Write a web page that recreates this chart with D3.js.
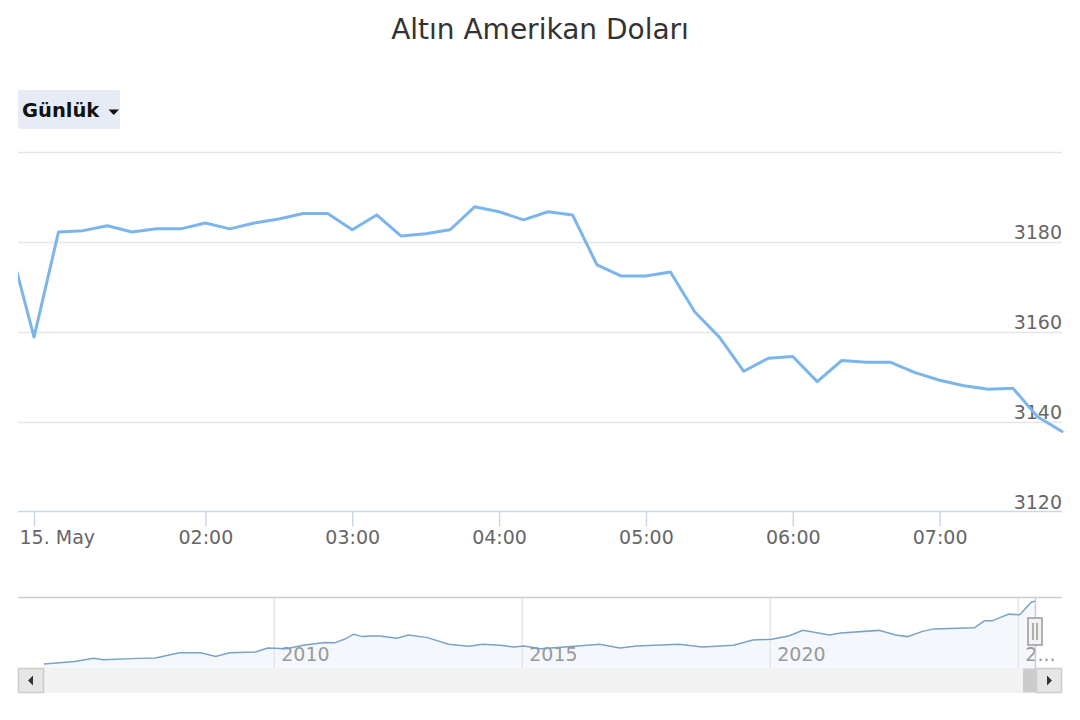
<!DOCTYPE html>
<html>
<head>
<meta charset="utf-8">
<script src="https://cdn.jsdelivr.net/npm/d3@7"></script>
<style>
  html, body { margin: 0; padding: 0; background: #fff; }
  svg { display: block; font-family: "DejaVu Sans", sans-serif; }
</style>
</head>
<body>
<svg id="chart" width="1080" height="720"></svg>
<script>
// ---- Data ----
const chartTitle = "Altın Amerikan Doları";
const rangeLabel = "Günlük";
// 10-minute points (ordinal index); first point lies just left of the visible window
const priceValues = [3179.5, 3158.8, 3182.2, 3182.5, 3183.6, 3182.2, 3182.9, 3182.9, 3184.2, 3182.9,
  3184.2, 3185.1, 3186.3, 3186.3, 3182.7, 3186.0, 3181.3, 3181.8, 3182.7, 3187.8,
  3186.7, 3184.9, 3186.7, 3186.0, 3174.9, 3172.4, 3172.4, 3173.3, 3164.4, 3158.8,
  3151.2, 3154.1, 3154.5, 3148.9, 3153.6, 3153.2, 3153.2, 3150.9, 3149.2, 3148.0,
  3147.2, 3147.4, 3141.1, 3137.8];
const timeTickIndex = [1, 8, 14, 20, 26, 32, 38];
const timeTickLabels = ["15. May", "02:00", "03:00", "04:00", "05:00", "06:00", "07:00"];
const yTicks = [3120, 3140, 3160, 3180, 3200];
const yLabelTicks = [3120, 3140, 3160, 3180];

const navDates = ["2005-05-15","2005-12-28","2006-05-15","2006-07-26","2007-04-12","2007-08-15","2008-02-05","2008-07-12","2008-10-30","2009-02-10","2009-08-20","2009-11-17","2010-04-05","2010-08-08","2011-01-12","2011-03-25","2011-06-05","2011-08-12","2011-10-16","2011-12-17","2012-02-20","2012-06-25","2012-09-20","2013-02-06","2013-07-12","2013-12-06","2014-03-18","2014-07-24","2014-11-03","2015-01-16","2015-05-20","2016-01-26","2016-07-27","2016-12-24","2017-04-27","2018-03-03","2018-08-25","2019-04-09","2019-08-30","2020-01-15","2020-05-19","2020-09-01","2021-03-17","2021-06-07","2022-03-15","2022-07-17","2022-10-12","2023-01-30","2023-04-23","2024-02-17","2024-04-30","2024-06-25","2024-10-27","2025-01-15","2025-04-12","2025-05-15"];
const navValues = [420,532,671,612,671,689,921,921,751,921,957,1136,1105,1257,1382,1364,1521,1749,1642,1673,1673,1566,1718,1597,1306,1212,1306,1257,1181,1226,1105,1212,1306,1136,1226,1306,1181,1257,1494,1521,1673,1920,1718,1799,1920,1718,1642,1875,1987,2032,2345,2345,2645,2613,3186,3231];
const navYears = ["2010-01-01", "2015-01-01", "2020-01-01", "2025-01-01"];

// ---- Layout ----
const svg = d3.select("#chart");
const W = 1080;
const plot = { left: 18, right: 1062, top: 152, bottom: 511.5 };
const nav = { left: 18, right: 1062, top: 597, bottom: 668, dataLeft: 44, dataRight: 1036 };
const scroll = { top: 668, bottom: 693, btn: 26 };

svg.append("rect").attr("width", 1080).attr("height", 720).attr("fill", "#fff");

// Title
svg.append("text").attr("x", W / 2).attr("y", 39).attr("text-anchor", "middle")
  .attr("font-size", 28).attr("fill", "#333").text(chartTitle);

// Range button
const btn = svg.append("g");
btn.append("rect").attr("x", 18).attr("y", 90).attr("width", 102).attr("height", 39)
  .attr("rx", 2).attr("fill", "#e6ebf5");
btn.append("text").attr("x", 22).attr("y", 117).attr("font-size", 19.5).attr("font-weight", "bold")
  .attr("fill", "#111").text(rangeLabel);
btn.append("path").attr("d", "M108.5,109.5 L119,109.5 L113.75,115 Z").attr("fill", "#111");

// ---- Scales ----
const x = d3.scaleLinear().domain([0.345, priceValues.length - 1]).range([plot.left, plot.right]);
const y = d3.scaleLinear().domain([3120, 3200]).range([plot.bottom, plot.top]);

// Grid lines
svg.append("g").selectAll("line").data(yTicks.filter(v => v > 3120)).join("line")
  .attr("x1", plot.left).attr("x2", plot.right)
  .attr("y1", d => Math.round(y(d)) + 0.5).attr("y2", d => Math.round(y(d)) + 0.5)
  .attr("stroke", "#e6e6e6").attr("stroke-width", 1.5);

// Y labels (right side, above grid lines)
svg.append("g").selectAll("text").data(yLabelTicks).join("text")
  .attr("x", plot.right).attr("y", d => y(d) - 3).attr("text-anchor", "end")
  .attr("font-size", 19).attr("fill", "#666").text(d => d);

// X axis
const xAxis = d3.axisBottom(x).tickValues(timeTickIndex)
  .tickFormat((d, i) => timeTickLabels[i]).tickSize(15).tickSizeOuter(0).tickPadding(3);
const gx = svg.append("g").attr("transform", `translate(0,${plot.bottom})`).call(xAxis);
gx.select(".domain").attr("stroke", "#ccd6eb").attr("stroke-width", 1.5)
  .attr("d", `M${plot.left},0H${plot.right}`);
gx.selectAll(".tick line").attr("stroke", "#ccd6eb").attr("stroke-width", 1.5);
gx.selectAll(".tick text").attr("font-size", 19).attr("fill", "#666")
  .attr("font-family", "DejaVu Sans").attr("dy", "0.75em");
gx.selectAll(".tick").each(function(d) {
  const t = d3.select(this).select("text");
  const bb = t.node().getBBox();
  const tx = x(d);
  if (tx + bb.x < plot.left) {
    t.attr("text-anchor", "start").attr("x", plot.left + 1 - tx);
  }
});

// Clip + line
svg.append("clipPath").attr("id", "plotclip").append("rect")
  .attr("x", plot.left).attr("y", plot.top - 5).attr("width", plot.right - plot.left + 2)
  .attr("height", plot.bottom - plot.top + 10);
svg.append("path").datum(priceValues)
  .attr("clip-path", "url(#plotclip)")
  .attr("fill", "none").attr("stroke", "#7cb5ec").attr("stroke-width", 3)
  .attr("stroke-linejoin", "round").attr("stroke-linecap", "round")
  .attr("d", d3.line().x((d, i) => x(i)).y(d => y(d)));

// ---- Navigator ----
const parse = d3.timeParse("%Y-%m-%d");
const navData = navDates.map((d, i) => ({ date: parse(d), v: navValues[i] }));
const nx = d3.scaleTime().domain(d3.extent(navData, d => d.date)).range([nav.dataLeft, nav.dataRight]);
const ny = d3.scaleLinear().domain(d3.extent(navValues)).range([664, 601]);

// area
svg.append("path").datum(navData)
  .attr("fill", "#f4f8fc")
  .attr("d", d3.area().x(d => nx(d.date)).y0(nav.bottom).y1(d => ny(d.v)));

// navigator grid + labels via axis
const yearDates = navYears.map(parse);
const navAxis = d3.axisBottom(nx).tickValues(yearDates).tickFormat(d3.timeFormat("%Y"))
  .tickSize(-(nav.bottom - nav.top)).tickSizeOuter(0);
const gn = svg.append("g").attr("transform", `translate(0,${nav.bottom})`).call(navAxis);
gn.select(".domain").remove();
gn.selectAll(".tick line").attr("stroke", "#e6e6e6").attr("stroke-width", 1.5);
gn.selectAll(".tick text").attr("font-size", 19).attr("fill", "#999")
  .attr("font-family", "DejaVu Sans")
  .attr("text-anchor", "start").attr("x", 7).attr("y", -7).attr("dy", 0);
gn.selectAll(".tick text").each(function(d) {
  const t = d3.select(this);
  const full = t.text();
  const avail = nav.right - 6 - (nx(d) + 7);
  if (this.getComputedTextLength() > avail) {
    let s = full;
    while (s.length > 1) {
      s = s.slice(0, -1);
      t.text(s + "...");
      if (this.getComputedTextLength() <= avail) break;
    }
  }
});

// navigator line
svg.append("path").datum(navData)
  .attr("fill", "none").attr("stroke", "#7aa2c8").attr("stroke-width", 1.5)
  .attr("d", d3.line().x(d => nx(d.date)).y(d => ny(d.v)));

// outline
svg.append("line").attr("x1", nav.left).attr("x2", nav.right)
  .attr("y1", nav.top + 0.5).attr("y2", nav.top + 0.5)
  .attr("stroke", "#cccccc").attr("stroke-width", 1.5);
svg.append("line").attr("x1", nav.dataRight - 0.5).attr("x2", nav.dataRight - 0.5)
  .attr("y1", nav.top).attr("y2", nav.bottom)
  .attr("stroke", "#cccccc").attr("stroke-width", 1.5);

// ---- Scrollbar ----
svg.append("rect").attr("x", nav.left + scroll.btn).attr("y", scroll.top)
  .attr("width", nav.right - nav.left - 2 * scroll.btn).attr("height", scroll.bottom - scroll.top)
  .attr("fill", "#f2f2f2");
svg.append("rect").attr("x", 1023).attr("y", scroll.top + 0.5)
  .attr("width", nav.dataRight - 1023).attr("height", scroll.bottom - scroll.top - 1)
  .attr("fill", "#cccccc");
// buttons
[nav.left, nav.right - scroll.btn].forEach((bx, i) => {
  svg.append("rect").attr("x", bx + 0.5).attr("y", scroll.top + 0.5)
    .attr("width", scroll.btn - 1).attr("height", scroll.bottom - scroll.top - 1)
    .attr("fill", "#e6e6e6").attr("stroke", "#cccccc").attr("stroke-width", 1.5);
  const cx = bx + scroll.btn / 2, cy = (scroll.top + scroll.bottom) / 2;
  const d = i === 0
    ? `M${cx + 2},${cy - 5} L${cx + 2},${cy + 5} L${cx - 3},${cy} Z`
    : `M${cx - 2},${cy - 5} L${cx - 2},${cy + 5} L${cx + 3},${cy} Z`;
  svg.append("path").attr("d", d).attr("fill", "#333");
});

// handle
const hx = nav.dataRight - 1;
svg.append("rect").attr("x", hx - 7).attr("y", 618).attr("width", 14).attr("height", 27)
  .attr("fill", "#f2f2f2").attr("stroke", "#999").attr("stroke-width", 1.5);
[-2, 2].forEach(o => {
  svg.append("line").attr("x1", hx + o).attr("x2", hx + o).attr("y1", 623).attr("y2", 640)
    .attr("stroke", "#999").attr("stroke-width", 1.5);
});
</script>
</body>
</html>
